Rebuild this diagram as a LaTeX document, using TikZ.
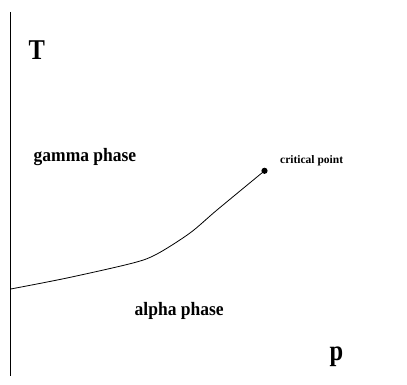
\documentclass[tikz,border=0pt]{standalone}
\usepackage{fontspec}
\setmainfont{Liberation Serif}
\begin{document}
\begin{tikzpicture}[x=1pt,y=-1pt,
  lbl/.style={inner sep=0pt,anchor=base west},
  big/.style={lbl,font=\fontsize{24.5}{26}\selectfont\bfseries},
  mid/.style={lbl,font=\fontsize{17.5}{20}\selectfont\bfseries},
  small/.style={lbl,font=\fontsize{11.5}{13}\selectfont\bfseries}]
\useasboundingbox (0,0) rectangle (407,385);
\coordinate (axtop) at (10.7,12);
\coordinate (axbot) at (10.7,376);
\draw[line width=0.9pt] (axtop) -- (axbot);
\node[big] (T) at (28.5,59.5) {\scalebox{1}[1.17]{T}};
\node[big] (p) at (329.5,360) {\scalebox{1}[1.18]{p}};
\node[mid] (gamma) at (33.5,161) {\scalebox{1}[1.08]{gamma phase}};
\node[mid] (alpha) at (134.5,315.5) {\scalebox{1}[1.08]{alpha phase}};
\node[small] (cplabel) at (280,164) {critical point};
\fill (264.5,170.8) circle (3.1pt) coordinate (cp);
\coordinate (start) at (10.7,289);
\draw[line width=0.8pt] plot[smooth,tension=0.5] coordinates {(start) (67,278) (133,263) (157,254) (190,233) (217,210) (cp)};
\end{tikzpicture}
\end{document}
